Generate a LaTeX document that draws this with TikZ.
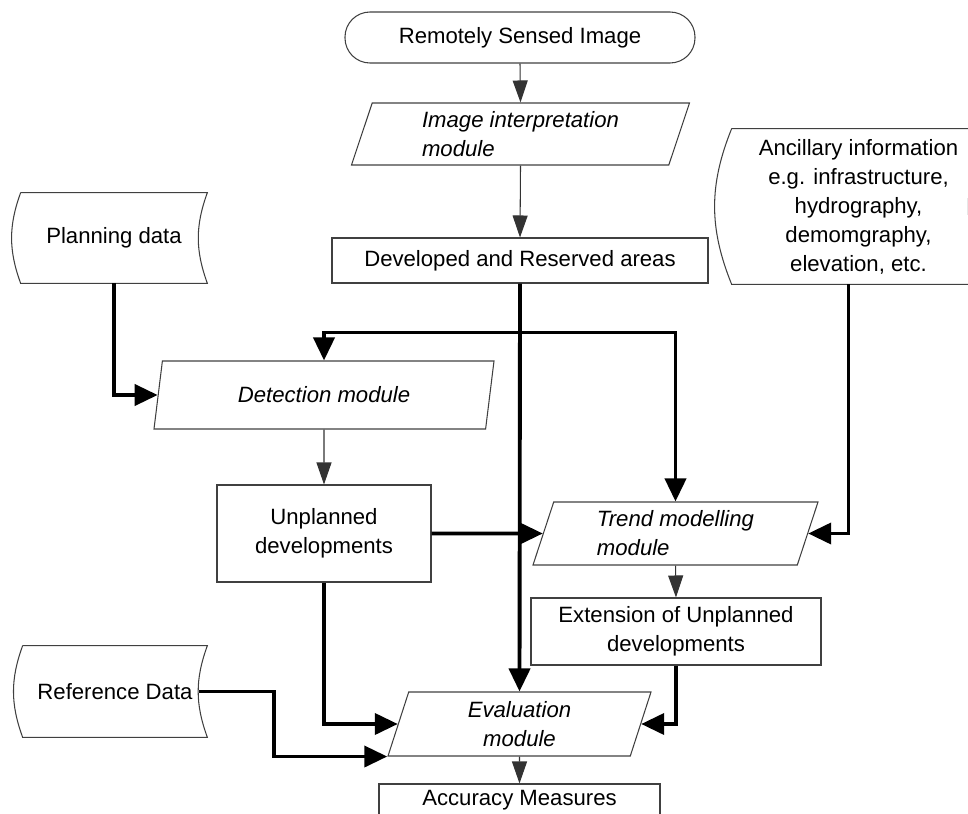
\documentclass[tikz,border=0pt]{standalone}
\usepackage{fontspec}
\setmainfont{Liberation Sans}
\usetikzlibrary{shapes.geometric,arrows.meta}
\begin{document}
\begin{tikzpicture}[
  font=\fontsize{12.6}{16.5}\selectfont,
  outline/.style={draw=black!75, line width=0.6pt},
  term/.style={outline, rounded corners=0.5cm, minimum width=7cm, minimum height=1.02cm},
  rect/.style={outline, inner sep=1pt, align=center},
  proc/.style={outline, trapezium, trapezium left angle=67, trapezium right angle=113,
    trapezium stretches body, inner sep=1pt, font=\fontsize{12.6}{16.5}\selectfont\itshape},
  store/.style={inner sep=1pt, align=center},
  conn/.style={draw=black!80, line width=0.6pt, -{Triangle[length=4.4mm,width=3mm]}},
  flow/.style={line width=2.2pt, -{Triangle[length=4.6mm,width=4.2mm]}},
]
  \useasboundingbox (0,0) rectangle (19.36,-16.28);

  % modules and data
  \node[term] (img) at (10.4,-0.75) {Remotely Sensed Image};
  \node[proc, minimum width=6.76cm, minimum height=1.24cm, align=left] (interp) at (10.41,-2.68) {Image interpretation\\module};
  \node[rect, minimum width=7.52cm, minimum height=0.9cm] (dev) at (10.4,-5.21) {Developed and Reserved areas};
  \node[store, minimum width=3.72cm, minimum height=1.8cm] (plan) at (2.28,-4.76) {Planning data};
  \node[store, minimum width=5.06cm, minimum height=3.1cm] (anc) at (17.17,-4.13) {Ancillary information\\e.g. infrastructure,\\hydrography,\\demomgraphy,\\elevation, etc.};
  \node[proc, minimum width=6.8cm, minimum height=1.36cm] (det) at (6.48,-7.9) {Detection module};
  \node[rect, minimum width=4.28cm, minimum height=1.94cm] (unpl) at (6.48,-10.67) {Unplanned\\developments};
  \node[proc, minimum width=5.7cm, minimum height=1.26cm, align=left] (trend) at (13.51,-10.67) {Trend modelling\\module};
  \node[rect, minimum width=5.8cm, minimum height=1.34cm] (ext) at (13.52,-12.63) {Extension of Unplanned\\developments};
  \node[store, minimum width=3.68cm, minimum height=1.82cm] (ref) at (2.3,-13.83) {Reference Data};
  \node[proc, minimum width=5.26cm, minimum height=1.28cm, align=center] (eval) at (10.39,-14.48) {Evaluation\\module};
  \node[rect, minimum width=5.62cm, minimum height=0.66cm] (acc) at (10.39,-16.01) {Accuracy Measures};

  % stored data outlines
  \foreach \n/\b in {plan/20, ref/20, anc/22}
    \draw[outline] (\n.north west) -- (\n.north east) to[bend right=\b] (\n.south east)
      -- (\n.south west) to[bend left=\b] (\n.north west);

  % connectors
  \draw[conn] (img.south) -- (interp.north);
  \draw[conn] (interp.south) -- (dev.north);
  \draw[flow] (dev.south) -- (eval.north);
  \path (dev.south) ++(0,-0.98) coordinate (split);
  \draw[flow] (split) -| (det.north);
  \draw[flow] (split) -| (trend.north);
  \draw[flow] (plan.south) |- (det.west);
  \draw[conn] (det.south) -- (unpl.north);
  \draw[flow] (unpl.east) -- (trend.west);
  \draw[flow] ([xshift=-2mm]anc.south) |- (trend.east);
  \draw[conn] (trend.south) -- (ext.north);
  \draw[flow] (ext.south) |- (eval.east);
  \draw[flow] (unpl.south) |- (eval.west);
  \draw[flow] ([xshift=-1.7mm]ref.east) -- ++(1.5,0) |- (eval.bottom left corner);
  \draw[conn] (eval.south) -- (acc.north);
\end{tikzpicture}
\end{document}
